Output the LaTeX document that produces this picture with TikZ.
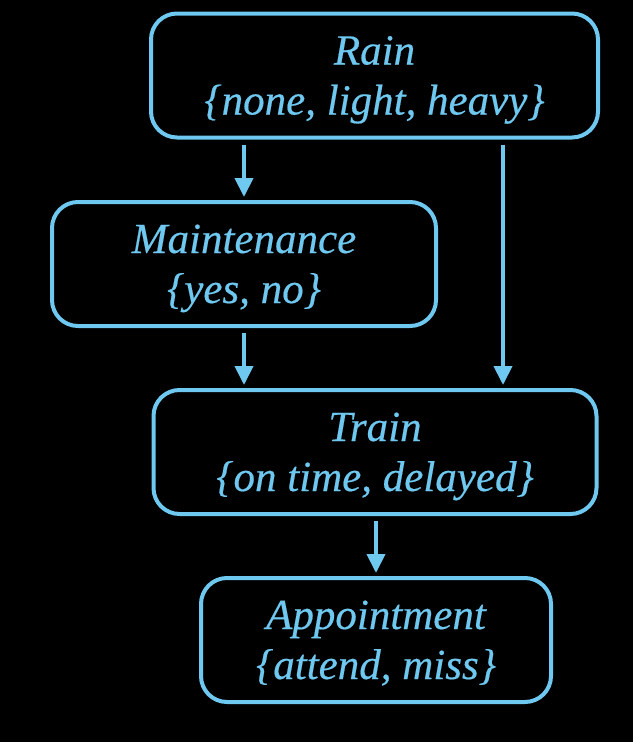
\documentclass[tikz,border=0pt]{standalone}
\usepackage{fontspec}
\setmainfont{Liberation Serif}[ItalicFeatures={FakeBold=0.4}]
\usetikzlibrary{arrows.meta}
\definecolor{chalk}{RGB}{110,200,240}
\tikzstyle{state}=[draw=chalk, line width=4pt, rounded corners=26pt
,align=center, text=chalk
,font=\itshape\fontsize{43}{50}\selectfont
,minimum height=124pt, inner sep=0pt, outer sep=2pt
]
\tikzstyle{link}=[draw=chalk, line width=4pt, -{Triangle[width=18pt,length=19pt]}
,shorten <=5pt, shorten >=3pt]
% fixed line heights so the two text lines sit where the slide has them
\newcommand{\topline}{\rule{0pt}{40pt}}
\newcommand{\botline}{\rule[-12pt]{0pt}{0pt}}

\begin{document}
\begin{tikzpicture}[x=1pt,y=-1pt]
    % dark slide behind everything
    \fill[black] (0,0) rectangle (633,742);
    \useasboundingbox (0,0) rectangle (633,742);

    % the four variables
    \node[state, minimum width=447pt] (Rain) at (374.5,75.5) {\topline Rain\\\{none, light, heavy\}\botline};
    \node[state, minimum width=384pt] (Maint) at (244,264) {\topline Maintenance\\\{yes, no\}\botline};
    \node[state, minimum width=443pt] (Train) at (375,452) {\topline Train\\\{on time, delayed\}\botline};
    \node[state, minimum width=350pt] (Appt) at (376,640) {\topline Appointment\\\{attend, miss\}\botline};
    \coordinate (rx) at (503,0);

    % dependencies
    \path[link] (Maint.north |- Rain.south) -- (Maint.north);
    \path[link] (rx |- Rain.south) -- (rx |- Train.north);
    \path[link] (Maint.south) -- (Maint.south |- Train.north);
    \path[link] (Appt.north |- Train.south) -- (Appt.north);
\end{tikzpicture}
\end{document}
